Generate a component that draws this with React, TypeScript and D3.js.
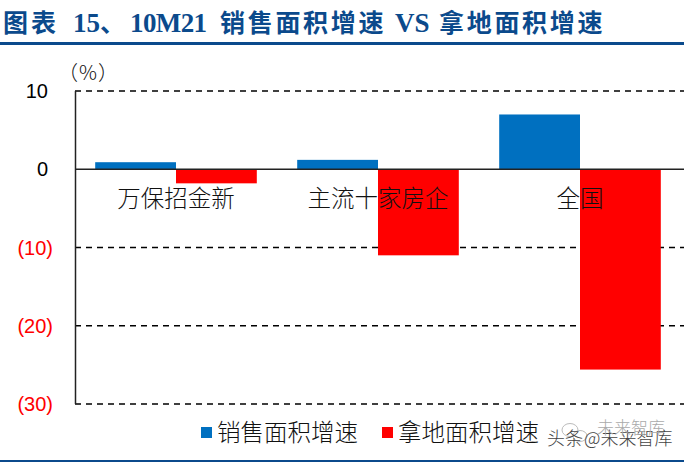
import * as d3 from "d3";

const categories = ["万保招金新", "主流十家房企", "全国"];
const salesGrowth = [0.9, 1.2, 7.0];
const landGrowth = [-1.8, -11.0, -25.6];
const seriesNames = ["销售面积增速", "拿地面积增速"];
const gridTicks = [10, -10, -20, -30];
const yTicks = [10, 0, -10, -20, -30];

const width = 684;
const height = 462;
const cjk = "'Noto Sans CJK SC', sans-serif";
const serif = "'Liberation Serif', serif";
const navy = "#0b4a8c";

export default function App() {
  const y = d3.scaleLinear().domain([-30, 10]).range([404, 91]);
  const x = d3.scaleBand<string>().domain(categories).range([75, 681]);
  const bar = d3
    .scaleBand<string>()
    .domain(seriesNames)
    .range([0, x.bandwidth()])
    .paddingInner(0)
    .paddingOuter(0.25);

  const fmt = (d: number) => (d < 0 ? `(${-d})` : `${d}`);

  const series = [
    { name: seriesNames[0], values: salesGrowth, color: "#0070c0" },
    { name: seriesNames[1], values: landGrowth, color: "#ff0000" },
  ];

  // title pieces, the latin parts use a different font
  const titleParts = [
    { t: "图表", x: 3, font: cjk, size: 25, ls: 3 },
    { t: "15", x: 73, font: serif, size: 27, ls: 0 },
    { t: "、", x: 100, font: cjk, size: 25, ls: 0 },
    { t: "10M21", x: 130, font: serif, size: 27, ls: -0.6 },
    { t: seriesNames[0], x: 220, font: cjk, size: 25, ls: 2.7 },
    { t: "VS", x: 395, font: serif, size: 27, ls: 0 },
    { t: seriesNames[1], x: 439, font: cjk, size: 25, ls: 2.7 },
  ];

  return (
    <svg
      width={width}
      height={height}
      style={{ position: "absolute", left: 0, top: 0, background: "#fff" }}
    >
      {/* header */}
      {titleParts.map((p) => (
        <text
          key={p.t}
          x={p.x}
          y={32}
          fontSize={p.size}
          letterSpacing={p.ls}
          fontWeight={700}
          fill={navy}
          fontFamily={p.font}
        >
          {p.t}
        </text>
      ))}
      <rect x={0} y={42} width={width} height={3} fill={navy} />

      {/* gridlines */}
      {gridTicks.map((t) => (
        <line
          key={t}
          x1={75}
          x2={684}
          y1={y(t)}
          y2={y(t)}
          stroke="#000"
          strokeWidth={1.5}
          strokeDasharray="6 5"
        />
      ))}

      {/* bars */}
      {series.map((s) =>
        s.values.map((v, i) => (
          <rect
            key={`${s.name}-${i}`}
            x={(x(categories[i]) ?? 0) + (bar(s.name) ?? 0)}
            y={Math.min(y(v), y(0))}
            width={bar.bandwidth()}
            height={Math.abs(y(v) - y(0))}
            fill={s.color}
          />
        ))
      )}

      {/* axes */}
      <line x1={75.5} x2={75.5} y1={y(10)} y2={y(-30)} stroke="#222" strokeWidth={1.5} />
      <line x1={75} x2={684} y1={y(0)} y2={y(0)} stroke="#222" strokeWidth={1.5} />

      {yTicks.map((t) => (
        <text
          key={t}
          x={t < 0 ? 53 : 48}
          y={y(t)}
          dy={7}
          textAnchor="end"
          fontSize={20}
          fill={t < 0 ? "#ff0000" : "#000"}
          fontFamily="'Liberation Sans', sans-serif"
        >
          {fmt(t)}
        </text>
      ))}
      <text
        x={88.5}
        y={80}
        textAnchor="middle"
        fontSize={20}
        letterSpacing={1}
        fill="#111"
        fontFamily={cjk}
        fontWeight={300}
      >
        （%）
      </text>

      {categories.map((c) => (
        <text
          key={c}
          x={(x(c) ?? 0) + x.bandwidth() / 2}
          y={207}
          textAnchor="middle"
          fontSize={23.5}
          fill="#111"
          fontFamily={cjk}
          fontWeight={300}
        >
          {c}
        </text>
      ))}

      {/* legend */}
      <rect x={201} y={427} width={11} height={11} fill="#0070c0" />
      <text x={217} y={441} fontSize={23.5} fill="#111" fontFamily={cjk} fontWeight={300}>
        {seriesNames[0]}
      </text>
      <rect x={382} y={427} width={11} height={11} fill="#ff0000" />
      <text x={398} y={441} fontSize={23.5} fill="#111" fontFamily={cjk} fontWeight={300}>
        {seriesNames[1]}
      </text>

      {/* watermark */}
      <g fill="#fff" fillOpacity={0.3} stroke="#bbb" strokeWidth={1}>
        <ellipse cx={570} cy={430} rx={8} ry={6.5} />
        <ellipse cx={580} cy={436} rx={7} ry={5.5} />
      </g>
      <text x={547} y={445} fontSize={18} fill="#444" fontFamily={cjk} fontWeight={300}>
        头条
      </text>
      <text x={584} y={445} fontSize={18} fill="#444" fontFamily={cjk} fontWeight={300}>
        @未来智库
      </text>
      <text x={597} y={434} fontSize={17} fill="#aaa" fontFamily={cjk} fontWeight={300}>
        未来智库
      </text>

      <rect x={0} y={460} width={width} height={2} fill={navy} />
    </svg>
  );
}
